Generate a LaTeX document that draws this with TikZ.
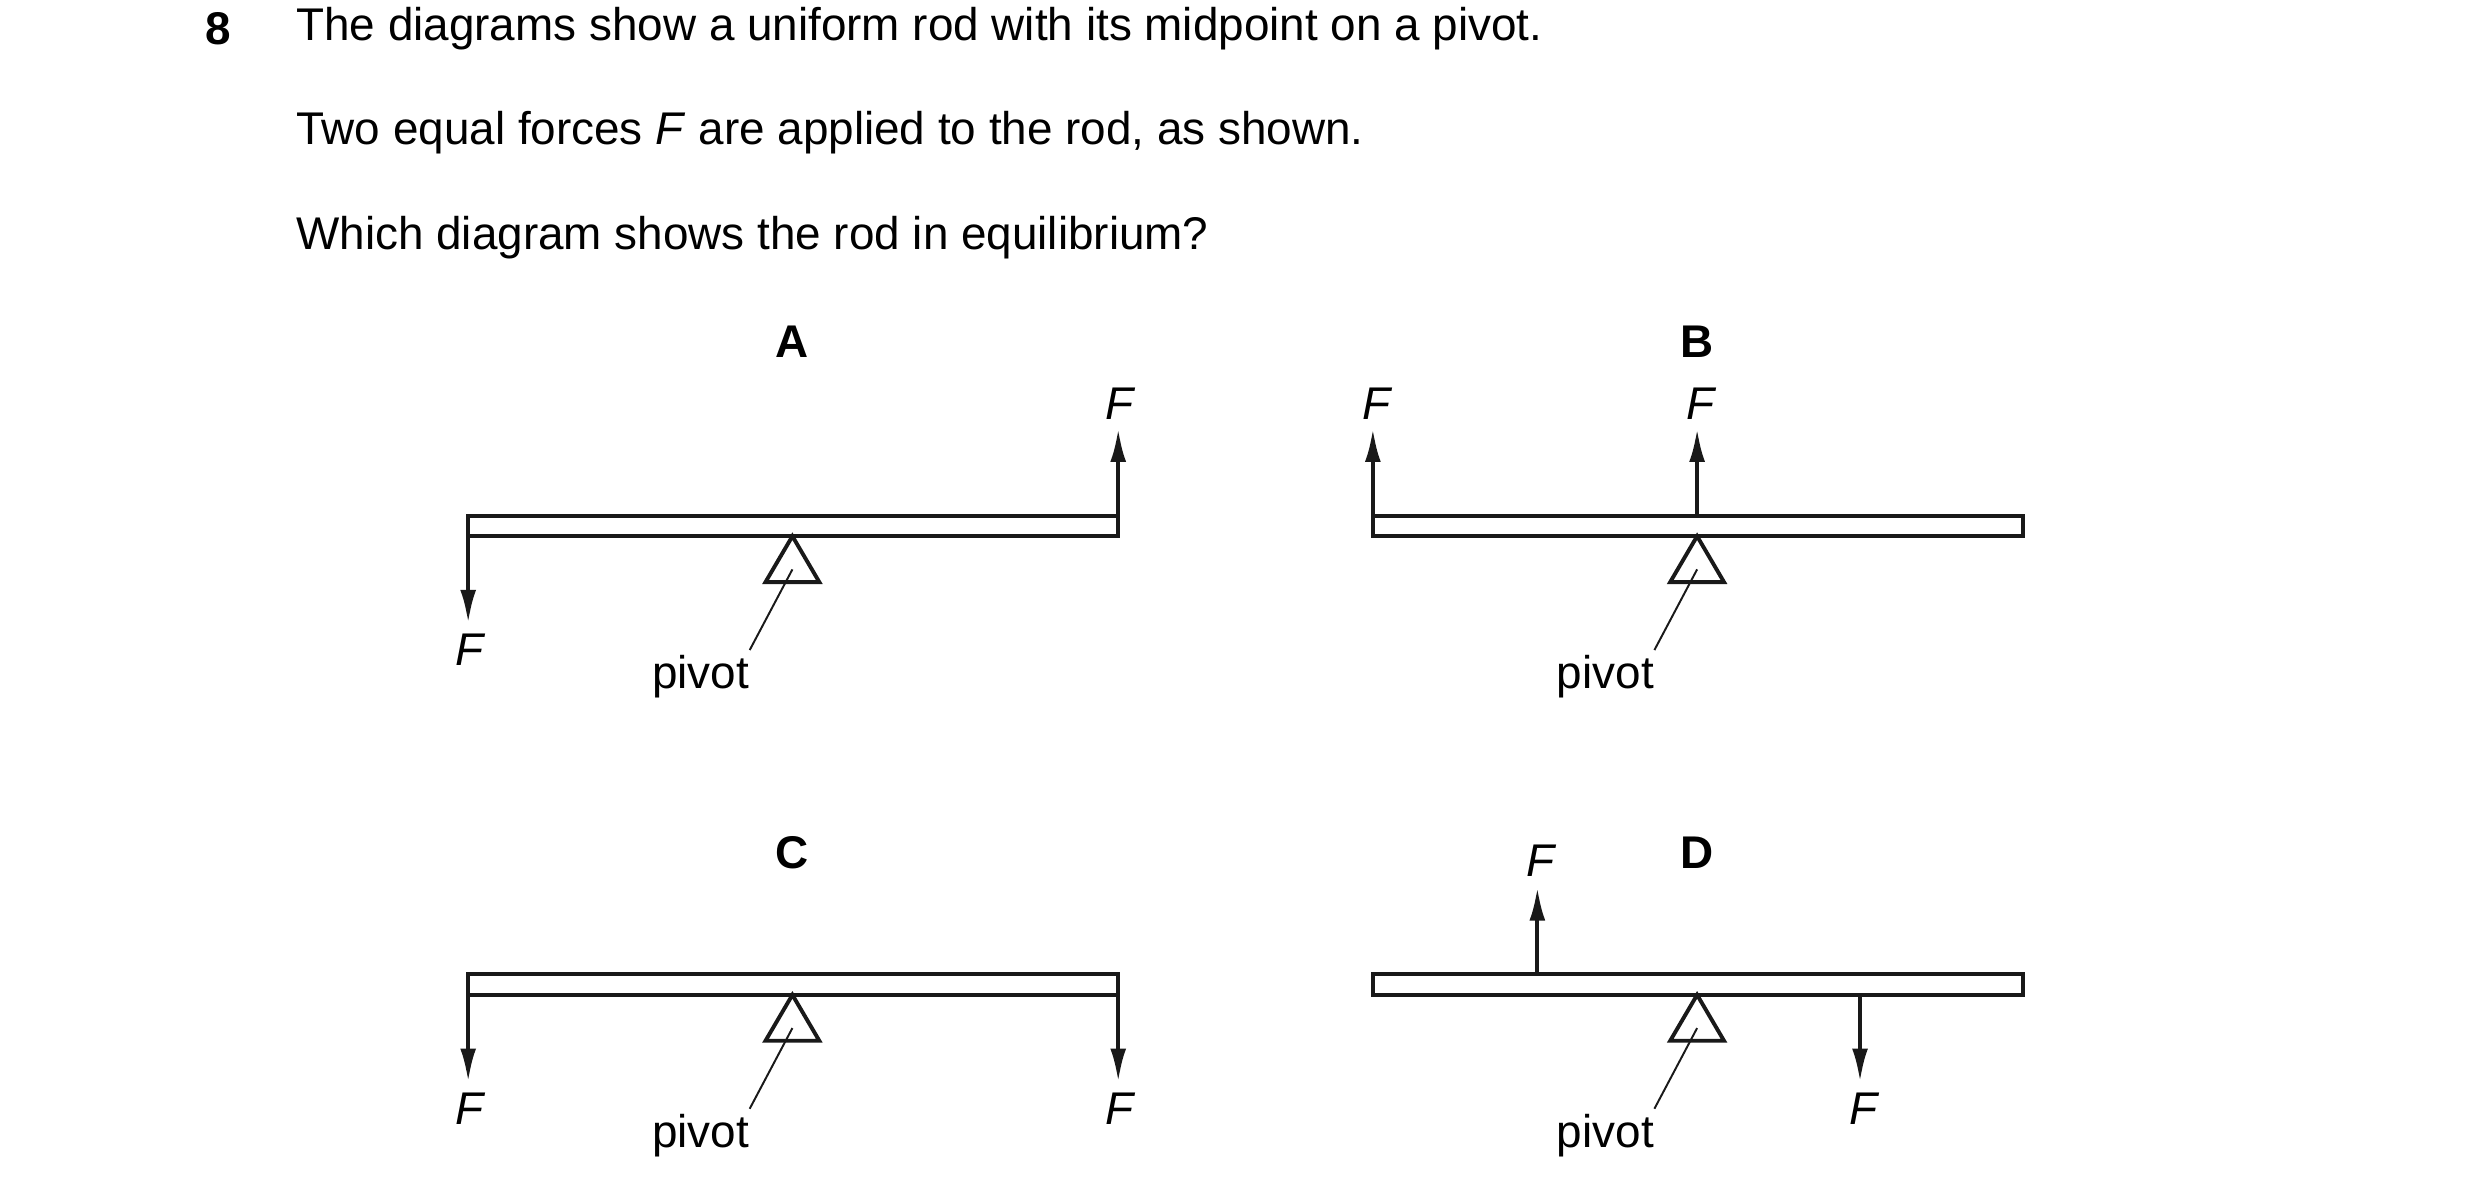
\documentclass[tikz,border=0pt]{standalone}
\usepackage{fontspec}
\setmainfont{Liberation Sans}
\usetikzlibrary{arrows.meta}
\begin{document}
\begin{tikzpicture}[x=0.02cm,y=-0.02cm,
  txt/.style={font=\fontsize{16.5}{19}\selectfont,anchor=west,inner sep=0},
  lab/.style={font=\fontsize{16.5}{19}\selectfont\bfseries,inner sep=0},
  ff/.style={font=\fontsize{16.5}{19}\selectfont\itshape,inner sep=0},
  pv/.style={font=\fontsize{16.5}{19}\selectfont,inner sep=0},
  rod/.style={draw=black!90,line width=1.4pt},
  frc/.style={draw=black!90,line width=1.4pt,-{Latex[length=0.42cm,width=0.2cm]}},
  thin/.style={draw=black!90,line width=0.7pt}]
\useasboundingbox (0,0) rectangle (1568,758);
\node[lab] (n8) at (138,18) {8};
\node[txt] (t1) at (187,18) {The diagrams show a uniform rod with its midpoint on a pivot.};
\node[txt] (t2) at (187,84) {Two equal forces \textit{F} are applied to the rod, as shown.};
\node[txt] (t3) at (187,150) {Which diagram shows the rod in equilibrium?};
\newcommand{\mypivot}[3]{%
  \draw[rod] (#1,#2+13) -- (#1-17,#2+42) -- (#1+17,#2+42) -- cycle;
  \coordinate (#3a) at (#1,#2+34);
  \coordinate (#3b) at (#1-27,#2+85);
  \draw[thin] (#3a) -- (#3b);
  \node[pv] (#3t) at (#1-58,#2+102) {pivot};}
% A
\node[lab] (lA) at (501,216) {A};
\draw[rod] (296,326) rectangle (707,339);
\mypivot{501}{326}{pA}
\coordinate (a1) at (296,339); \coordinate (a1e) at (296,394);
\draw[frc] (a1) -- (a1e); \node[ff] (fa1) at (297,411) {F};
\coordinate (a2) at (707,326); \coordinate (a2e) at (707,271);
\draw[frc] (a2) -- (a2e); \node[ff] (fa2) at (708,255) {F};
% B
\node[lab] (lB) at (1073,216) {B};
\draw[rod] (868,326) rectangle (1279,339);
\mypivot{1073}{326}{pB}
\coordinate (b1) at (868,326); \coordinate (b1e) at (868,271);
\draw[frc] (b1) -- (b1e); \node[ff] (fb1) at (870,255) {F};
\coordinate (b2) at (1073,326); \coordinate (b2e) at (1073,271);
\draw[frc] (b2) -- (b2e); \node[ff] (fb2) at (1075,255) {F};
% C
\node[lab] (lC) at (501,539) {C};
\draw[rod] (296,616) rectangle (707,629);
\mypivot{501}{616}{pC}
\coordinate (c1) at (296,629); \coordinate (c1e) at (296,684);
\draw[frc] (c1) -- (c1e); \node[ff] (fc1) at (297,701) {F};
\coordinate (c2) at (707,629); \coordinate (c2e) at (707,684);
\draw[frc] (c2) -- (c2e); \node[ff] (fc2) at (708,701) {F};
% D
\node[lab] (lD) at (1073,539) {D};
\draw[rod] (868,616) rectangle (1279,629);
\mypivot{1073}{616}{pD}
\coordinate (d1) at (972,616); \coordinate (d1e) at (972,561);
\draw[frc] (d1) -- (d1e); \node[ff] (fd1) at (974,544) {F};
\coordinate (d2) at (1176,629); \coordinate (d2e) at (1176,684);
\draw[frc] (d2) -- (d2e); \node[ff] (fd2) at (1178,701) {F};
\end{tikzpicture}
\end{document}
